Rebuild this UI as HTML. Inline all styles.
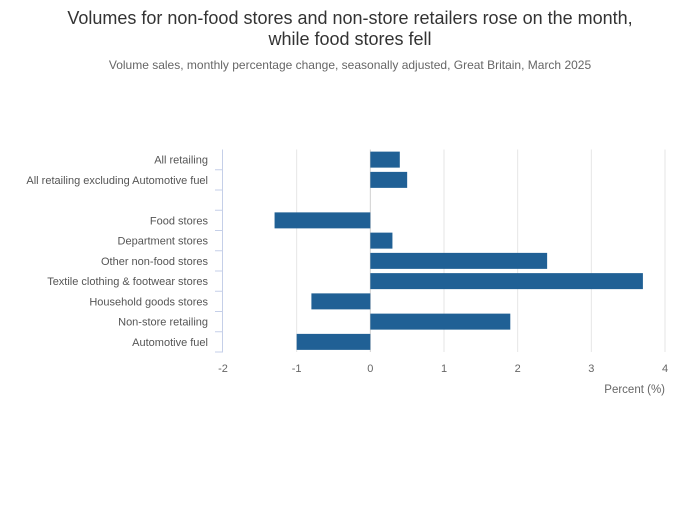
<!DOCTYPE html>
<html><head><meta charset="utf-8"><style>
body{margin:0;background:#fff;font-family:"Liberation Sans",sans-serif;}
</style></head><body>
<svg width="700" height="502" xmlns="http://www.w3.org/2000/svg" id="chart">
<text x="350" y="24" text-anchor="middle" font-size="18" fill="#333">Volumes for non-food stores and non-store retailers rose on the month,</text>
<text x="350" y="45" text-anchor="middle" font-size="18" fill="#333">while food stores fell</text>
<text x="350" y="69" text-anchor="middle" font-size="12" fill="#666">Volume sales, monthly percentage change, seasonally adjusted, Great Britain, March 2025</text>
<g id="grid"></g><g id="bars"></g><g id="yaxis"></g><g id="xaxis"></g>
<text x="665" y="393" text-anchor="end" font-size="11.5" fill="#666">Percent (%)</text>
</svg>
<script>
const categories=["All retailing","All retailing excluding Automotive fuel","","Food stores","Department stores","Other non-food stores","Textile clothing & footwear stores","Household goods stores","Non-store retailing","Automotive fuel"];
const values=[0.4,0.5,null,-1.3,0.3,2.4,3.7,-0.8,1.9,-1.0];
const xTicks=[-2,-1,0,1,2,3,4];
const NS="http://www.w3.org/2000/svg";
const x0=223,x1=665,xmin=-2,xmax=4,yTop=149.5,yBot=352;
const rowH=(yBot-yTop)/categories.length;
const xs=v=>x0+(v-xmin)/(xmax-xmin)*(x1-x0);
function mk(t,a,p){const e=document.createElementNS(NS,t);for(const k in a)e.setAttribute(k,a[k]);document.getElementById(p).appendChild(e);return e;}
xTicks.forEach(t=>{
 if(t!==xmin){const l=mk("line",{x1:xs(t),x2:xs(t),y1:yTop,y2:yBot,stroke:t===0?"#d0d0d0":"#e6e6e6","stroke-width":1},"grid");
 
 }
 const tx=mk("text",{x:xs(t),y:372,"text-anchor":"middle","font-size":"11",fill:"#666"},"xaxis");
 tx.textContent=t;
 
 
});
const ax=mk("line",{x1:x0-0.5,x2:x0-0.5,y1:yTop,y2:yBot,stroke:"#c5cfe8","stroke-width":1},"yaxis");


for(let i=1;i<=categories.length;i++){
 const tk=mk("line",{x1:x0-8,x2:x0,y1:yTop+i*rowH,y2:yTop+i*rowH,stroke:"#c5cfe8","stroke-width":1},"yaxis");
 
 
}
categories.forEach((c,i)=>{
 const cy=yTop+(i+0.5)*rowH;
 if(c){const t=mk("text",{x:208,y:cy+4,"text-anchor":"end","font-size":"11",fill:"#555"},"yaxis");
 t.textContent=c;
 
 }
 const v=values[i];
 if(v!==null){const a=xs(Math.min(0,v)),b=xs(Math.max(0,v));
 const r=mk("rect",{x:a,y:cy-8,width:b-a,height:16,fill:"#206095"},"bars");
 
 }
});
</script>
</body></html>
